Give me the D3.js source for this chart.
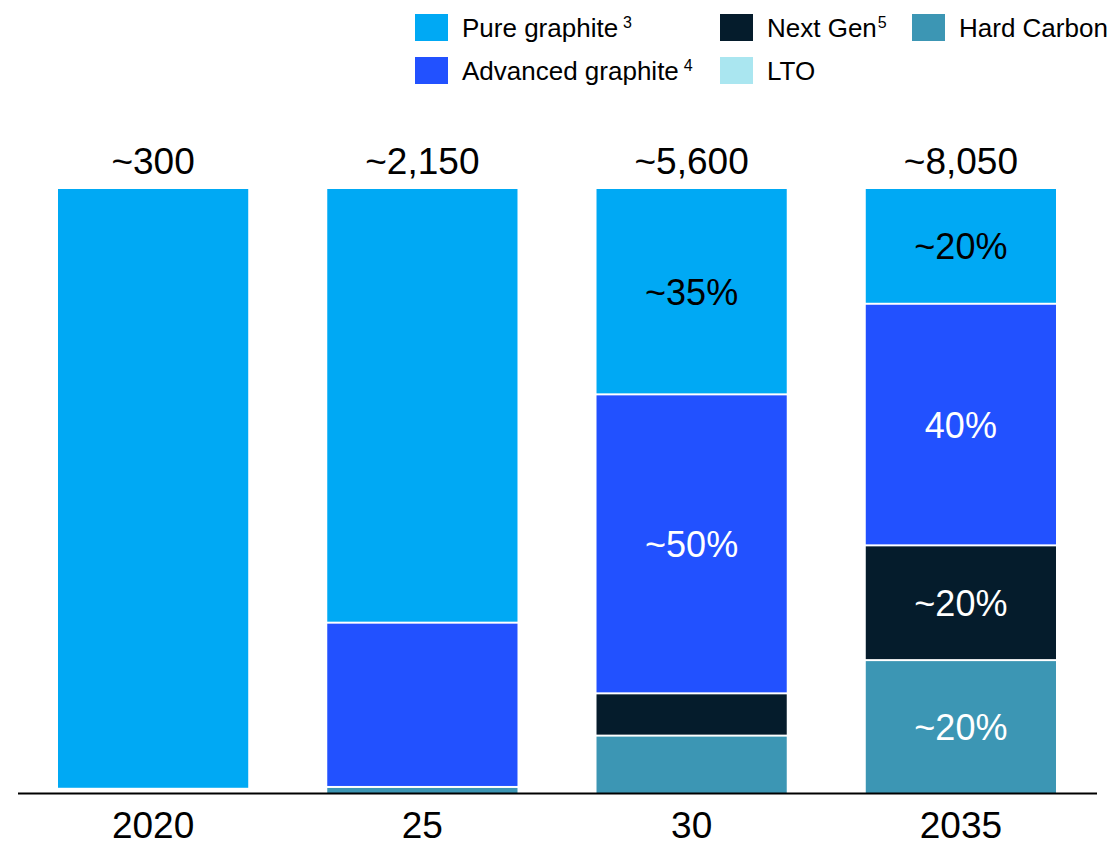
<!DOCTYPE html>
<html>
<head>
<meta charset="utf-8">
<script src="https://cdn.jsdelivr.net/npm/d3@7"></script>
<style>
  html, body { margin: 0; padding: 0; background: #fff; }
  svg { display: block; font-family: "Liberation Sans", Arial, sans-serif; }
</style>
</head>
<body>
<svg id="chart" width="1110" height="846"></svg>
<script>
// Anode material mix by year, share of total (%), stacked top to bottom
const years = ["2020", "25", "30", "2035"];
const totals = ["~300", "~2,150", "~5,600", "~8,050"];

const pureGraphite     = [99.3, 71.8, 34.0, 19.0];
const advancedGraphite = [0,    27.2, 49.5, 40.0];
const nextGen          = [0,    0,    7.0,  19.0];
const lto              = [0,    0,    0,    0];
const hardCarbon       = [0,    1.0,  9.5,  22.0];

// Segment labels (null = no label)
const pureLabels     = [null, null, "~35%", "~20%"];
const advancedLabels = [null, null, "~50%", "40%"];
const nextGenLabels  = [null, null, null,   "~20%"];
const ltoLabels      = [null, null, null,   null];
const hardLabels     = [null, null, null,   "~20%"];

const series = [
  { key: "pure",     name: "Pure graphite",     sup: "3", supGap: true,  values: pureGraphite,     labels: pureLabels,     color: "#00A9F4", text: "#000" },
  { key: "advanced", name: "Advanced graphite", sup: "4", supGap: true,  values: advancedGraphite, labels: advancedLabels, color: "#2251FF", text: "#fff" },
  { key: "nextgen",  name: "Next Gen",          sup: "5", supGap: false, values: nextGen,          labels: nextGenLabels,  color: "#051C2C", text: "#fff" },
  { key: "lto",      name: "LTO",               sup: "",  supGap: false, values: lto,              labels: ltoLabels,      color: "#AAE6F0", text: "#000" },
  { key: "hard",     name: "Hard Carbon",       sup: "",  supGap: false, values: hardCarbon,       labels: hardLabels,     color: "#3C96B4", text: "#fff" }
];

const rows = years.map((y, i) => {
  const r = { year: y };
  series.forEach(s => { r[s.key] = s.values[i]; });
  return r;
});

const svg = d3.select("#chart");

const x = d3.scaleBand().domain(years).range([58, 1056]).paddingInner(0.2935).paddingOuter(0);
// 0% at the top of the column, 100% at the baseline
const y = d3.scaleLinear().domain([0, 100]).range([189, 793]);

const stack = d3.stack().keys(series.map(s => s.key));
const stacked = stack(rows);

const gap = 1;
stacked.forEach((layer, li) => {
  const s = series[li];
  const g = svg.append("g").attr("class", "layer-" + s.key);
  layer.forEach((d, i) => {
    const v = d[1] - d[0];
    if (v <= 0) return;
    const top = y(d[0]) + (d[0] > 0 ? gap : 0);
    const bot = y(d[1]) - (d[1] < 99.99 ? gap : 0);
    g.append("rect")
      .attr("x", x(years[i]))
      .attr("y", top)
      .attr("width", x.bandwidth())
      .attr("height", Math.max(0, bot - top))
      .attr("fill", s.color);
    const lab = s.labels[i];
    if (lab) {
      g.append("text")
        .attr("x", x(years[i]) + x.bandwidth() / 2)
        .attr("y", (y(d[0]) + y(d[1])) / 2)
        .attr("dy", "0.36em")
        .attr("text-anchor", "middle")
        .attr("font-size", 36)
        .attr("fill", s.text)
        .text(lab);
    }
  });
});

// Totals above each column
svg.append("g").selectAll("text")
  .data(years)
  .join("text")
  .attr("x", d => x(d) + x.bandwidth() / 2)
  .attr("y", 174)
  .attr("text-anchor", "middle")
  .attr("font-size", 37)
  .attr("fill", "#000")
  .text((d, i) => totals[i]);

// Baseline
svg.append("line")
  .attr("x1", 18).attr("x2", 1097)
  .attr("y1", 793.5).attr("y2", 793.5)
  .attr("stroke", "#000").attr("stroke-width", 2);

// Category axis labels
const xAxis = d3.axisBottom(x).tickSize(0).tickPadding(0);
const axisG = svg.append("g").attr("transform", "translate(0,793)").call(xAxis);
axisG.select(".domain").remove();
axisG.selectAll("text")
  .attr("y", 45)
  .attr("dy", 0)
  .attr("font-size", 37)
  .attr("font-family", "\"Liberation Sans\", Arial, sans-serif")
  .attr("fill", "#000");

// Legend
const legendPos = [
  { key: "pure",     x: 415, y: 14 },
  { key: "nextgen",  x: 720, y: 14 },
  { key: "hard",     x: 912, y: 14 },
  { key: "advanced", x: 415, y: 57 },
  { key: "lto",      x: 720, y: 57 }
];
const legend = svg.append("g").attr("class", "legend");
legendPos.forEach(p => {
  const s = series.find(d => d.key === p.key);
  const item = legend.append("g").attr("transform", `translate(${p.x},${p.y})`);
  item.append("rect").attr("width", 33).attr("height", 27).attr("fill", s.color);
  const t = item.append("text")
    .attr("x", 47).attr("y", 23)
    .attr("font-size", 26)
    .attr("fill", "#000")
    .text(s.name);
  if (s.sup) {
    t.append("tspan")
      .attr("dx", s.supGap ? 5 : 1)
      .attr("dy", -9)
      .attr("font-size", 16)
      .text(s.sup);
  }
});
</script>
</body>
</html>
